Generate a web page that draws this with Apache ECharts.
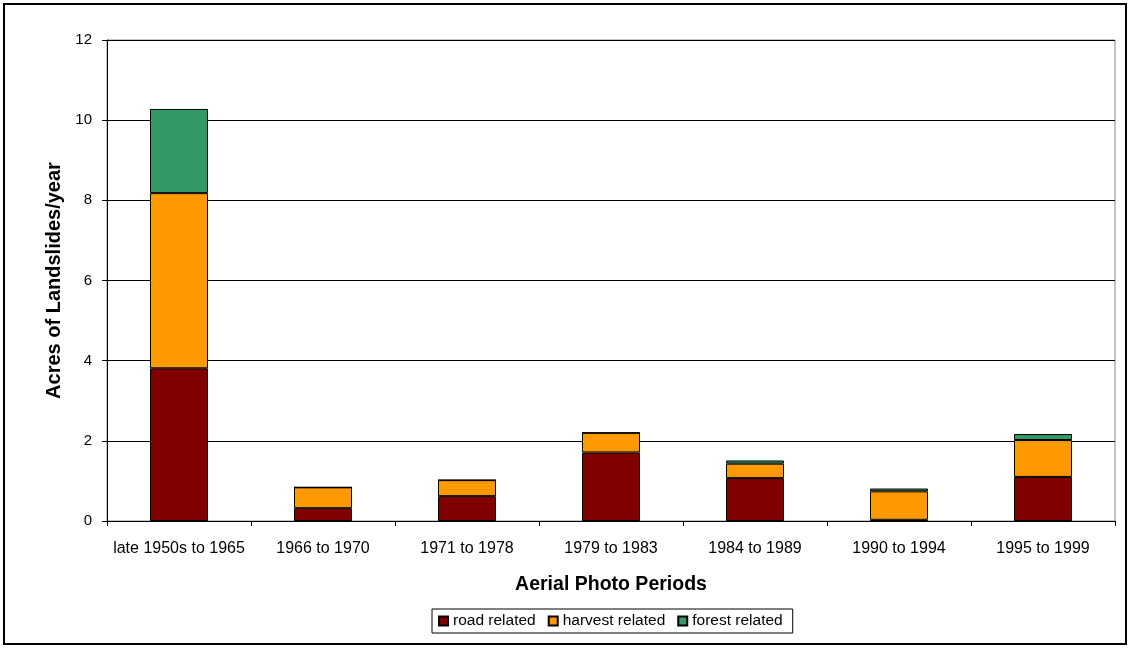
<!DOCTYPE html>
<html><head><meta charset="utf-8">
<script src="https://cdn.jsdelivr.net/npm/echarts@6/dist/echarts.min.js"></script>
<style>html,body{margin:0;padding:0;background:#fff}#c{width:1130px;height:648px}</style>
</head><body><div id="c"></div>
<script>
const categories = ['late 1950s to 1965','1966 to 1970','1971 to 1978','1979 to 1983','1984 to 1989','1990 to 1994','1995 to 1999'];
const roadRelated = [3.81, 0.32, 0.62, 1.71, 1.07, 0.03, 1.10];
const harvestRelated = [4.37, 0.52, 0.40, 0.49, 0.36, 0.71, 0.92];
const forestRelated = [2.10, 0, 0, 0, 0.08, 0.07, 0.15];
const yTicks = {min: 0, max: 12, interval: 2};

const chart = echarts.init(document.getElementById('c'), null, {renderer: 'canvas'});
const font = 'Arial, "Liberation Sans", sans-serif';
function bar(name, data, color) {
  return {name, type: 'bar', stack: 'a', data, barWidth: 58,
    itemStyle: {color, borderColor: '#000', borderWidth: 1}};
}
chart.setOption({
  animation: false,
  backgroundColor: '#fff',
  textStyle: {fontFamily: font},
  graphic: [{type: 'rect', shape: {x: 4, y: 4, width: 1122, height: 640},
    style: {fill: 'none', stroke: '#000', lineWidth: 2}, silent: true, z: 100}],
  grid: {left: 107, right: 15, top: 40, bottom: 127, show: true, borderColor: '#888', borderWidth: 1},
  legend: {left: 432, top: 609, itemWidth: 9, itemHeight: 9, itemGap: 12, icon: 'rect',
    borderColor: '#000', borderWidth: 1, padding: [4, 10, 4, 6],
    textStyle: {fontSize: 15.5, color: '#000', fontFamily: font}},
  xAxis: {type: 'category', data: categories,
    name: 'Aerial Photo Periods', nameLocation: 'middle', nameGap: 54,
    nameTextStyle: {fontSize: 19.5, fontWeight: 'bold', color: '#000', fontFamily: font},
    axisLine: {lineStyle: {color: '#000'}},
    axisTick: {show: true, length: 5, interval: 0, lineStyle: {color: '#000'}},
    axisLabel: {fontSize: 16, color: '#000', margin: 20, interval: 0, fontFamily: font}},
  yAxis: {type: 'value', min: yTicks.min, max: yTicks.max, interval: yTicks.interval,
    name: 'Acres of Landslides/year', nameLocation: 'middle', nameGap: 40,
    nameTextStyle: {fontSize: 20, fontWeight: 'bold', color: '#000', fontFamily: font},
    axisLine: {show: true, lineStyle: {color: '#000'}},
    axisTick: {show: true, length: 5, inside: false, lineStyle: {color: '#000'}},
    splitLine: {lineStyle: {color: '#000', width: 1}},
    axisLabel: {fontSize: 15, color: '#000', margin: 15, fontFamily: font}},
  series: [
    bar('road related', roadRelated, '#800000'),
    bar('harvest related', harvestRelated, '#FF9900'),
    bar('forest related', forestRelated, '#339966')
  ]
});
</script></body></html>
